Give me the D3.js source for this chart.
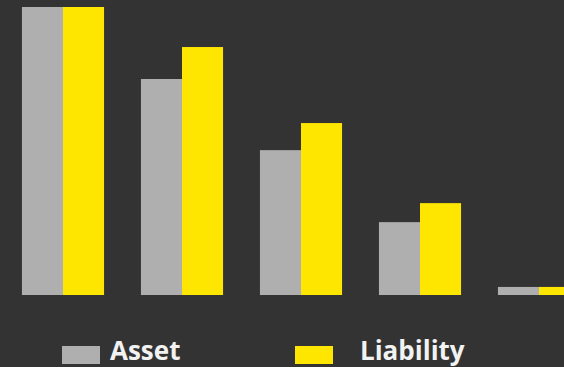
<!DOCTYPE html>
<html><head><meta charset="utf-8">
<script src="https://cdn.jsdelivr.net/npm/d3@7"></script>
<style>html,body{margin:0;padding:0;background:#333333;overflow:hidden}</style>
</head><body>
<script>
const categories = ["G1","G2","G3","G4","G5"];
const seriesNames = ["Asset","Liability"];
const assetValues = [100, 75, 50.3, 25.3, 2.8];
const liabilityValues = [100, 86.1, 59.7, 31.9, 2.8];
const colors = ["#afafaf","#ffe600"];

const W = 564, H = 367;
const svg = d3.select("body").append("svg").attr("width", W).attr("height", H)
  .style("background", "#333333");

const x0 = d3.scaleBand().domain(categories).range([3.5, 598.5]).paddingInner(0.31).paddingOuter(0.155);
const x1 = d3.scaleBand().domain(seriesNames).range([0, x0.bandwidth()]);
const y = d3.scaleLinear().domain([0, 100]).range([295, 7]);

const data = categories.map((c, i) => ({c, vals: [assetValues[i], liabilityValues[i]]}));
const g = svg.selectAll("g.grp").data(data).join("g").attr("transform", d => `translate(${x0(d.c)},0)`);
g.selectAll("rect").data(d => d.vals.map((v, j) => ({v, s: seriesNames[j], j})))
  .join("rect")
  .attr("x", d => x1(d.s))
  .attr("width", x1.bandwidth())
  .attr("y", d => y(d.v))
  .attr("height", d => y(0) - y(d.v))
  .attr("fill", d => colors[d.j]);

const legendX = [62, 295];
const textX = [110, 360];
const leg = svg.selectAll("g.leg").data(seriesNames).join("g");
leg.append("rect").attr("x", (d,i) => legendX[i]).attr("y", 346).attr("width", 38).attr("height", 18)
  .attr("fill", (d,i) => colors[i]);
leg.append("text").attr("x", (d,i) => textX[i]).attr("y", 360)
  .attr("font-family", "Open Sans, sans-serif").attr("font-weight", "bold").attr("font-size", 26)
  .attr("fill", "#f2f2f2").text(d => d);
</script>
</body></html>
